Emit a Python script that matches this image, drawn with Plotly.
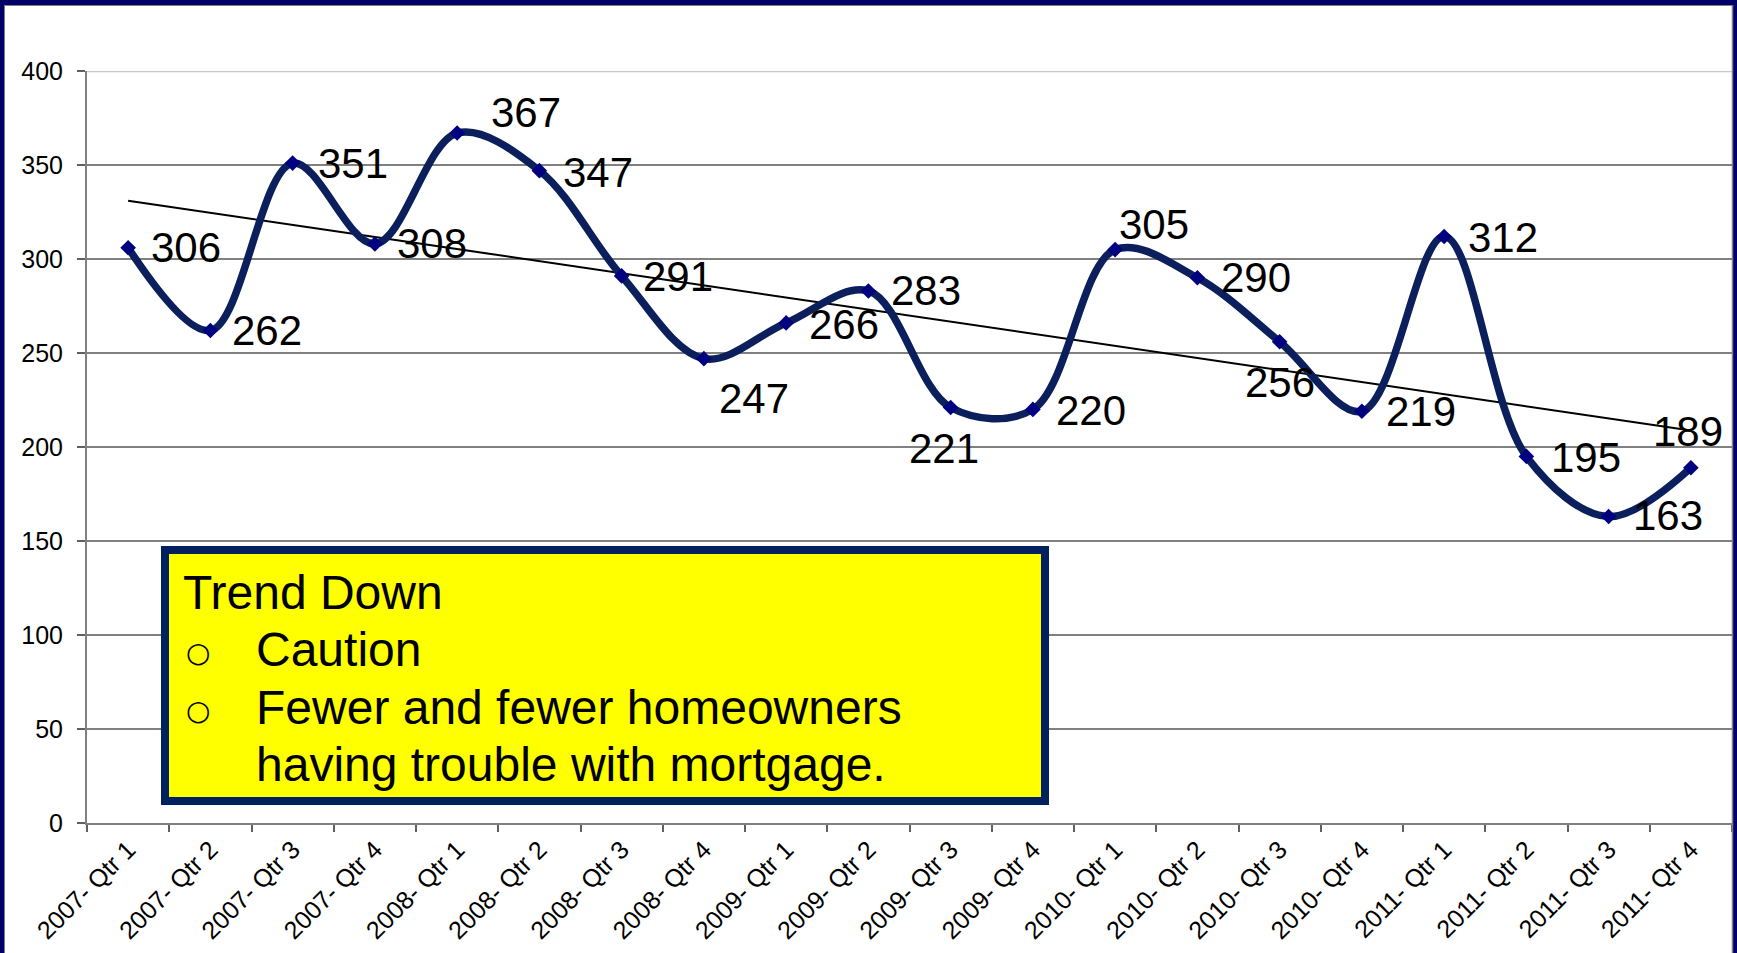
import numpy as np
import plotly.graph_objects as go

# Quarterly counts, 2007 Q1 through 2011 Q4
quarters = [
    "2007- Qtr 1", "2007- Qtr 2", "2007- Qtr 3", "2007- Qtr 4",
    "2008- Qtr 1", "2008- Qtr 2", "2008- Qtr 3", "2008- Qtr 4",
    "2009- Qtr 1", "2009- Qtr 2", "2009- Qtr 3", "2009- Qtr 4",
    "2010- Qtr 1", "2010- Qtr 2", "2010- Qtr 3", "2010- Qtr 4",
    "2011- Qtr 1", "2011- Qtr 2", "2011- Qtr 3", "2011- Qtr 4",
]
values = [306, 262, 351, 308, 367, 347, 291, 247, 266, 283,
          221, 220, 305, 290, 256, 219, 312, 195, 163, 189]
y_ticks = [0, 50, 100, 150, 200, 250, 300, 350, 400]

# Pixel offsets of each value label relative to its point (dx right, dy down)
label_offsets = [
    (58, 0), (57, 0), (60, 0), (57, 0), (69, -21),
    (59, 2), (56, 1), (50, 40), (58, 2), (58, 0),
    (-7, 41), (58, 1), (39, -25), (59, 0), (0, 41),
    (59, 0), (59, 1), (60, 1), (59, -1), (-3, -36),
]

FONT = "Liberation Sans, Arial, sans-serif"
NAVY_LINE = "#0B1F5C"
FRAME = "#000068"

# Linear trend through the quarterly series
idx = np.arange(1, len(values) + 1)
slope, intercept = np.polyfit(idx, values, 1)
trend = slope * idx + intercept

fig = go.Figure()

fig.add_trace(go.Scatter(
    x=quarters, y=trend, mode="lines",
    line=dict(color="black", width=2),
    hoverinfo="skip",
))

fig.add_trace(go.Scatter(
    x=quarters, y=values, mode="lines+markers",
    line=dict(color=NAVY_LINE, width=7.5, shape="spline", smoothing=1.0),
    marker=dict(symbol="diamond", size=12, color="#000080"),
))

for q, v, (dx, dy) in zip(quarters, values, label_offsets):
    fig.add_annotation(
        x=q, y=v, text=str(v), showarrow=False,
        xshift=dx, yshift=-dy,
        font=dict(family=FONT, size=42, color="black"),
    )

# Plot area occupies pixels x 87..1732, y 71..823
L, R, T, B = 87, 1732, 71, 823
W, H = R - L, B - T


def px(x):
    return (x - L) / W


def py(y):
    return (B - y) / H


shapes = []
# lighter top gridline at 400
shapes.append(dict(type="line", xref="paper", yref="y", x0=0, x1=1, y0=400, y1=400,
                   line=dict(color="#C8C8C8", width=2.5), layer="between"))
# call-out box
shapes.append(dict(type="rect", xref="paper", yref="paper",
                   x0=px(165), x1=px(1045), y0=py(801), y1=py(550),
                   fillcolor="#FFFF00", line=dict(color="#002060", width=8), layer="above"))
# outer frame: thin grey inner line plus navy band (top, left, right)
shapes.append(dict(type="rect", xref="paper", yref="paper",
                   x0=px(0), x1=px(1737), y0=py(0), y1=py(5),
                   fillcolor=FRAME, line=dict(width=0), layer="above"))
shapes.append(dict(type="rect", xref="paper", yref="paper",
                   x0=px(0), x1=px(4), y0=py(953), y1=py(0),
                   fillcolor=FRAME, line=dict(width=0), layer="above"))
shapes.append(dict(type="rect", xref="paper", yref="paper",
                   x0=px(1733), x1=px(1737), y0=py(953), y1=py(0),
                   fillcolor=FRAME, line=dict(width=0), layer="above"))
shapes.append(dict(type="line", xref="paper", yref="paper",
                   x0=px(4), x1=px(1733), y0=py(5.5), y1=py(5.5),
                   line=dict(color="#808080", width=1), layer="above"))
shapes.append(dict(type="line", xref="paper", yref="paper",
                   x0=px(4.5), x1=px(4.5), y0=py(953), y1=py(5),
                   line=dict(color="#808080", width=1), layer="above"))
shapes.append(dict(type="line", xref="paper", yref="paper",
                   x0=px(1732.5), x1=px(1732.5), y0=py(953), y1=py(5),
                   line=dict(color="#808080", width=1.5), layer="above"))

# call-out text
box_font = dict(family=FONT, size=48, color="black")
bullet_font = dict(family="DejaVu Sans, sans-serif", size=28, color="black")
line_y = [592, 649.5, 707, 764.5]
fig.add_annotation(x=px(181), y=py(line_y[0]), xref="paper", yref="paper",
                   text="Trend Down", showarrow=False, xanchor="left", yanchor="middle",
                   font=box_font)
for yy in line_y[1:3]:
    fig.add_annotation(x=px(184), y=py(yy + 3), xref="paper", yref="paper",
                       text="○", showarrow=False, xanchor="left", yanchor="middle",
                       font=bullet_font)
fig.add_annotation(x=px(254), y=py(line_y[1]), xref="paper", yref="paper",
                   text="Caution", showarrow=False, xanchor="left", yanchor="middle",
                   font=box_font)
fig.add_annotation(x=px(254), y=py(line_y[2]), xref="paper", yref="paper",
                   text="Fewer and fewer homeowners", showarrow=False,
                   xanchor="left", yanchor="middle", font=box_font)
fig.add_annotation(x=px(254), y=py(line_y[3]), xref="paper", yref="paper",
                   text="having trouble with mortgage.", showarrow=False,
                   xanchor="left", yanchor="middle", font=box_font)

fig.update_layout(
    width=1737, height=953,
    margin=dict(l=L, r=1737 - R, t=T, b=953 - B, pad=0),
    paper_bgcolor="white", plot_bgcolor="white",
    showlegend=False,
    shapes=shapes,
    font=dict(family=FONT, color="black"),
)

fig.update_xaxes(
    type="category", categoryorder="array", categoryarray=quarters,
    range=[-0.5, len(quarters) - 0.5], autorange=False,
    tickson="boundaries", ticks="outside", ticklen=7, tickwidth=1.5, tickcolor="#606060",
    tickangle=-45, tickfont=dict(family=FONT, size=25, color="black"),
    showline=True, linecolor="#808080", linewidth=2,
    showgrid=False, zeroline=False,
)
fig.update_yaxes(
    range=[0, 400], tickvals=y_ticks, ticktext=[str(t) for t in y_ticks],
    ticks="outside", ticklen=8, tickwidth=1.5, tickcolor="#606060",
    tickfont=dict(family=FONT, size=25, color="black"), ticklabelstandoff=9,
    showline=True, linecolor="#808080", linewidth=2,
    showgrid=True, gridcolor="#808080", gridwidth=1.5, zeroline=False,
)

fig.write_html("out.html", config={"displayModeBar": False})
